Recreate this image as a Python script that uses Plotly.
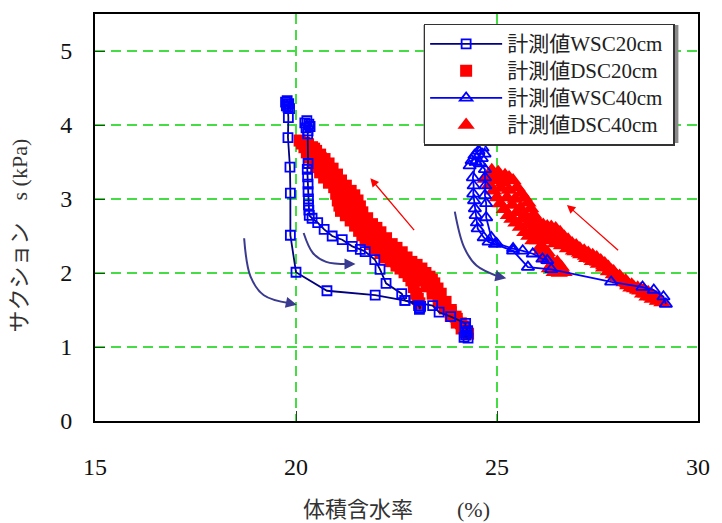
import plotly.graph_objects as go

# ---------------- data ----------------
# WSC20cm (wetting, 20 cm) - None separates the two wetting branches
wsc20_x = [19.74, 19.78, 19.82, 19.76, 19.80, 19.84, 19.79, 19.81, 19.80, 19.85, 19.86, 19.86, 20.00, 20.77, 21.97,
           22.71, 23.40, 23.56, 23.85, 24.22, 24.20, 24.27, 24.22, 24.28, 24.18, 24.25,
           None,
           20.22, 20.27, 20.32, 20.25, 20.30, 20.35, 20.29, 20.30, 20.28, 20.29, 20.30, 20.30, 20.31, 20.31, 20.32,
           20.33, 20.40, 20.54, 20.70, 20.90, 21.15, 21.40, 21.60, 21.72, 21.96, 22.09, 22.24, 22.63, 22.71,
           23.05, 23.08, 23.10, 23.07]
wsc20_y = [4.31, 4.33, 4.29, 4.26, 4.24, 4.22, 4.28, 4.10, 3.83, 3.43, 3.08, 2.51, 2.01, 1.76, 1.70,
           1.63, 1.56, 1.47, 1.41, 1.32, 1.27, 1.22, 1.16, 1.12, 1.13, 1.19,
           None,
           4.03, 4.06, 4.01, 3.96, 3.92, 3.98, 3.88, 3.48, 3.40, 3.30, 3.20, 3.10, 3.00, 2.92, 2.85,
           2.78, 2.74, 2.68, 2.59, 2.50, 2.45, 2.36, 2.32, 2.29, 2.18, 2.05, 1.86, 1.72, 1.63,
           1.56, 1.53, 1.55, 1.51]

# DSC20cm (drying, 20 cm)
dsc20_x = [20.09, 20.15, 20.21, 20.27, 20.33, 20.42, 20.50, 20.60, 20.70, 20.82, 20.95, 21.00, 21.04, 21.08,
           21.12, 21.24, 21.36, 21.47, 21.57, 21.65, 21.73, 21.85, 21.97, 22.10, 22.22, 22.36, 22.50,
           22.60, 22.70, 22.80, 22.87, 22.93, 22.99, 23.03, 23.07,
           20.20, 20.38, 20.55, 20.72, 20.88, 21.03, 21.15, 21.28, 21.42, 21.55, 21.66, 21.78, 21.92,
           22.05, 22.20, 22.35, 22.50, 22.65, 22.80, 22.95, 23.10, 23.25, 23.40, 23.55, 23.70, 23.85,
           24.00, 24.12,
           20.45, 20.62, 20.80, 20.98, 21.15, 21.30, 21.42, 21.52, 21.64, 21.78, 21.92, 22.05, 22.20,
           22.35, 22.50, 22.65, 22.80, 22.95, 23.10, 23.25, 23.40, 23.55, 23.70, 23.85, 24.00, 24.15,
           20.30, 20.40, 20.50, 20.60, 20.71, 20.81, 20.91, 21.02, 21.12, 21.24, 21.36, 21.45, 21.53,
           21.59, 21.65, 21.77, 21.89, 22.00, 22.10, 22.24, 22.38, 22.50, 22.63, 22.75, 22.87, 23.00,
           23.12, 23.22, 23.32, 23.38, 23.44, 23.52, 23.60, 23.72, 23.85, 23.97, 24.10, 24.16, 24.22, 24.28]
dsc20_y = [3.79, 3.75, 3.70, 3.63, 3.56, 3.50, 3.43, 3.36, 3.29, 3.22, 3.16, 3.07, 2.98, 2.91,
           2.84, 2.78, 2.71, 2.64, 2.57, 2.51, 2.44, 2.39, 2.33, 2.27, 2.21, 2.16, 2.10,
           2.06, 2.01, 1.96, 1.90, 1.81, 1.72, 1.65, 1.59,
           3.76, 3.62, 3.48, 3.36, 3.25, 3.12, 2.98, 2.86, 2.76, 2.68, 2.58, 2.50, 2.42,
           2.35, 2.27, 2.21, 2.15, 2.10, 2.05, 1.98, 1.90, 1.82, 1.72, 1.62, 1.52, 1.42,
           1.33, 1.25,
           3.68, 3.55, 3.42, 3.30, 3.17, 3.04, 2.92, 2.82, 2.72, 2.62, 2.53, 2.46, 2.38,
           2.31, 2.25, 2.19, 2.12, 2.06, 1.98, 1.88, 1.78, 1.68, 1.58, 1.47, 1.38, 1.28,
           3.74, 3.70, 3.65, 3.60, 3.54, 3.48, 3.41, 3.33, 3.25, 3.18, 3.11, 3.05, 2.98,
           2.90, 2.82, 2.74, 2.66, 2.61, 2.55, 2.47, 2.39, 2.34, 2.28, 2.21, 2.15, 2.11,
           2.06, 2.00, 1.95, 1.91, 1.86, 1.79, 1.72, 1.61, 1.50, 1.41, 1.32, 1.26, 1.20, 1.18]

# WSC40cm (wetting, 40 cm)
wsc40_x = [24.32, 24.37, 24.44, 24.54, 24.64, 24.47, 24.40, 24.42, 24.41, 24.43, 24.45, 24.47, 24.50, 24.52,
           24.67, 24.79, 24.95, 25.40, 25.77, 26.35, 27.84, 28.62, 28.90, 29.14, 29.20,
           None,
           24.69, 24.62, 24.58, 24.70, 24.70, 24.71, 24.70, 24.73, 24.73, 24.86, 24.99, 25.40, 25.64,
           25.89, 26.13, 26.25]
wsc40_y = [3.45, 3.52, 3.59, 3.65, 3.69, 3.50, 3.29, 3.18, 3.07, 2.98, 2.87, 2.78, 2.68, 2.60,
           2.48, 2.42, 2.39, 2.30, 2.08, 2.05, 1.88, 1.81, 1.77, 1.68, 1.58,
           None,
           3.61, 3.55, 3.48, 3.40, 3.29, 3.18, 3.05, 2.94, 2.75, 2.48, 2.40, 2.33, 2.30,
           2.26, 2.19, 2.17]

# DSC40cm (drying, 40 cm)
dsc40_x = [24.87, 25.03, 25.20, 25.30, 25.40, 25.50, 25.60, 25.68, 25.77, 25.84, 25.91, 25.98, 26.05, 26.15,
           26.25, 26.35, 26.46, 26.57, 26.67, 26.77, 26.87, 26.97, 27.06, 27.17, 27.27, 27.38, 27.48,
           27.58, 27.68, 27.77, 27.85, 27.93, 28.00, 28.08, 28.16, 28.25, 28.33, 28.42, 28.50, 28.58,
           28.66, 28.76, 28.85, 28.96, 29.05, 29.10,
           25.00, 25.15, 25.30, 25.45, 25.58, 25.70, 25.83, 25.95, 26.10, 26.25, 26.40, 26.55, 26.70,
           26.85, 27.00, 27.15, 27.30, 27.45, 27.60, 27.75, 27.90, 28.05, 28.20, 28.35, 28.50, 28.65,
           28.80, 28.95,
           24.80, 24.95, 25.10, 25.25, 25.38, 25.50, 25.62, 25.75, 25.88, 26.00, 26.15, 26.30, 26.45,
           26.60, 26.75, 26.90, 27.05, 27.20, 27.35, 27.50, 27.65, 27.80, 27.95, 28.10, 28.25, 28.40,
           28.55, 28.70, 28.85, 29.00,
           24.71, 24.81, 24.91, 25.00, 25.08, 25.18, 25.28, 25.37, 25.47, 25.58, 25.69, 25.79, 25.89,
           26.01, 26.08, 26.16, 26.22, 26.28, 26.33, 26.38, 26.44, 26.50, 26.58, 26.67, 26.30, 26.42,
           26.10, 26.20, 26.35, 26.55, 26.45, 26.25, 26.60, 26.50,
           26.94, 27.08, 27.23, 27.37, 27.52, 27.65, 27.77, 27.89, 28.01, 28.13, 28.26, 28.38, 28.50,
           28.62, 28.73, 28.86, 28.99]
dsc40_y = [3.39, 3.36, 3.32, 3.29, 3.25, 3.16, 3.08, 3.02, 2.95, 2.87, 2.79, 2.73, 2.67, 2.65,
           2.63, 2.62, 2.60, 2.55, 2.49, 2.45, 2.40, 2.37, 2.33, 2.30, 2.27, 2.24, 2.21,
           2.17, 2.13, 2.08, 2.03, 1.99, 1.95, 1.91, 1.87, 1.83, 1.80, 1.79, 1.78, 1.78,
           1.77, 1.74, 1.71, 1.67, 1.64, 1.60,
           3.30, 3.22, 3.12, 3.00, 2.88, 2.78, 2.70, 2.63, 2.57, 2.54, 2.51, 2.46, 2.42,
           2.36, 2.32, 2.28, 2.24, 2.19, 2.14, 2.08, 2.02, 1.96, 1.90, 1.84, 1.80, 1.76,
           1.71, 1.66,
           3.33, 3.25, 3.15, 3.02, 2.92, 2.82, 2.73, 2.65, 2.58, 2.52, 2.47, 2.44, 2.40,
           2.37, 2.33, 2.30, 2.27, 2.23, 2.19, 2.15, 2.10, 2.04, 1.98, 1.92, 1.86, 1.81,
           1.76, 1.72, 1.68, 1.63,
           3.27, 3.19, 3.11, 3.02, 2.94, 2.86, 2.78, 2.73, 2.68, 2.62, 2.55, 2.50, 2.44,
           2.44, 2.35, 2.33, 2.27, 2.22, 2.17, 2.12, 2.08, 2.04, 2.02, 2.01, 2.06, 2.01,
           2.30, 2.20, 2.10, 2.00, 2.10, 2.28, 2.08, 2.15,
           2.29, 2.25, 2.20, 2.16, 2.12, 2.07, 2.02, 1.98, 1.94, 1.90, 1.85, 1.81, 1.77,
           1.72, 1.68, 1.65, 1.62]

# guide arrows (wetting: curved, drying: straight)
curve1_x = [18.71, 18.87, 19.20, 19.85]
curve1_y = [2.47, 1.95, 1.70, 1.59]
curve2_x = [20.19, 20.42, 20.75, 21.30]
curve2_y = [2.54, 2.27, 2.15, 2.12]
curve3_x = [23.95, 24.18, 24.49, 25.05]
curve3_y = [2.83, 2.35, 2.10, 1.95]
curve_tips = [(20.02, 1.57), (21.48, 2.12), (25.23, 1.93)]
red_arrows = [((22.97, 2.56), (21.85, 3.28)), ((28.05, 2.29), (26.74, 2.92))]

x_ticks = [15, 20, 25, 30]
y_ticks = [0, 1, 2, 3, 4, 5]
x_title = "体積含水率　　(%)"
y_title = "サクション　s (kPa)"
NB = "\u00a0"

SERIF = "Liberation Serif, Times New Roman, Noto Sans CJK JP, serif"
LEG_FONT = "Liberation Serif, Noto Sans CJK JP, serif"


def leg(name):
    return '<span style="font-size:21px">' + name + NB + '</span>'


fig = go.Figure()

fig.add_trace(go.Scatter(x=dsc20_x, y=dsc20_y, mode="markers", name=leg("計測値DSC20cm"), legendrank=2,
                         marker=dict(symbol="square", size=12, color="#FF0000", line=dict(width=0))))
fig.add_trace(go.Scatter(x=dsc40_x, y=dsc40_y, mode="markers", name=leg("計測値DSC40cm"), legendrank=4,
                         marker=dict(symbol="triangle-up", size=15, color="#FF0000", line=dict(width=0))))
fig.add_trace(go.Scatter(x=wsc20_x, y=wsc20_y, mode="lines+markers", name=leg("計測値WSC20cm"), legendrank=1,
                         line=dict(color="#000080", width=1.8),
                         marker=dict(symbol="square-open", size=9, color="#0000FF", line=dict(width=1.8, color="#0000FF"))))
fig.add_trace(go.Scatter(x=wsc40_x, y=wsc40_y, mode="lines+markers", name=leg("計測値WSC40cm"), legendrank=3,
                         line=dict(color="#0000FF", width=1.8),
                         marker=dict(symbol="triangle-up-open", size=11, color="#0000FF", line=dict(width=1.8, color="#0000FF"))))

for cx, cy in [(curve1_x, curve1_y), (curve2_x, curve2_y), (curve3_x, curve3_y)]:
    fig.add_trace(go.Scatter(x=cx, y=cy, mode="lines", line=dict(color="#3A3A8F", width=2, shape="spline"),
                             showlegend=False, hoverinfo="skip"))

annotations = []
for (tx, ty), cx, cy in zip(curve_tips, [curve1_x, curve2_x, curve3_x], [curve1_y, curve2_y, curve3_y]):
    annotations.append(dict(x=tx, y=ty, ax=cx[-1], ay=cy[-1], xref="x", yref="y", axref="x", ayref="y",
                            text="", showarrow=True, arrowhead=2, arrowsize=1.1, arrowwidth=2,
                            arrowcolor="#3A3A8F", standoff=0, startstandoff=0))
for (tail, head) in red_arrows:
    annotations.append(dict(x=head[0], y=head[1], ax=tail[0], ay=tail[1], xref="x", yref="y",
                            axref="x", ayref="y", text="", showarrow=True, arrowhead=2, arrowsize=1.3,
                            arrowwidth=1.3, arrowcolor="#FF0000"))
annotations.append(dict(x=-0.125, y=0.455, xref="paper", yref="paper", text=y_title, textangle=-90,
                        xanchor="center", showarrow=False, font=dict(family=SERIF, size=22, color="#333333")))
annotations.append(dict(x=0.5, y=-0.218, xref="paper", yref="paper", text=x_title,
                        showarrow=False, font=dict(family=SERIF, size=22, color="#333333"), yanchor="middle"))

axis_common = dict(showline=True, linecolor="black", linewidth=2, mirror=True,
                   ticks="inside", ticklen=10, tickwidth=1.2, tickcolor="#1E4D1E",
                   showgrid=True, gridcolor="#44DD44", gridwidth=2, griddash="10px,6px",
                   zeroline=False, tickfont=dict(family=SERIF, size=24, color="#111111"))

fig.update_xaxes(range=[15, 30], tickvals=x_ticks, ticklabelstandoff=23, **axis_common)
fig.update_yaxes(range=[0, 5.5], tickvals=y_ticks, ticklabelstandoff=16, **axis_common)

# legend drop shadow (sits behind the legend box)
fig.add_shape(type="rect", xref="paper", yref="paper", x0=0.5447, x1=0.9675, y0=0.683, y1=0.973,
              fillcolor="#8A8A8A", line=dict(width=0), layer="above")

fig.update_layout(
    width=722, height=523,
    margin=dict(l=95, r=12, t=14, b=102),
    paper_bgcolor="white", plot_bgcolor="white",
    annotations=annotations,
    legend=dict(x=0.545, y=0.976, xanchor="left", yanchor="top", bgcolor="white",
                bordercolor="#333333", borderwidth=1.5, font=dict(family=LEG_FONT, size=18.5, color="#222222"),
                itemwidth=72, tracegroupgap=0),
    showlegend=True,
)

fig.write_html("out.html")
